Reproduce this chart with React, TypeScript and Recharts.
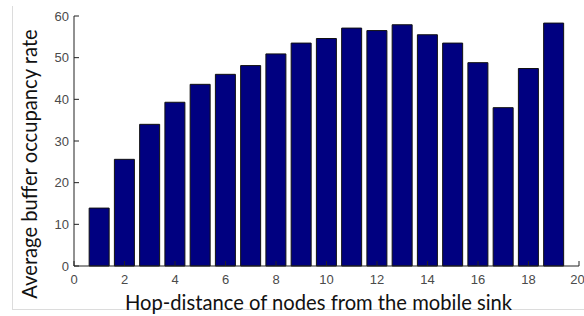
import React from 'react';
import { BarChart, Bar, XAxis, YAxis } from 'recharts';

const hops = [1, 2, 3, 4, 5, 6, 7, 8, 9, 10, 11, 12, 13, 14, 15, 16, 17, 18, 19];
const occupancy = [13.9, 25.6, 34.0, 39.3, 43.6, 46.0, 48.1, 50.9, 53.5, 54.6, 57.1, 56.5, 57.9, 55.5, 53.5, 48.8, 38.0, 47.4, 58.3];
const xTicks = [0, 2, 4, 6, 8, 10, 12, 14, 16, 18, 20];
const yTicks = [0, 10, 20, 30, 40, 50, 60];

const data = hops.map((h, i) => ({ hop: h, value: occupancy[i] }));

const tickStyle = { fill: '#4a4a4a', fontSize: 13, fontFamily: 'Liberation Sans, Arial, sans-serif' };
const labelFont = 'Lato, "Open Sans", sans-serif';

export default function App() {
  return (
    <div style={{ position: 'absolute', left: 0, top: 0, width: 584, height: 316, background: '#fff' }}>
      <div
        style={{
          position: 'absolute',
          left: 12,
          top: 6,
          width: 572,
          height: 303,
          borderLeft: '1px solid #dcdcdc',
          borderBottom: '1px solid #dcdcdc',
        }}
      />
      <BarChart
        width={584}
        height={316}
        data={data}
        margin={{ top: 16, right: 5, left: 0, bottom: 0 }}
        style={{ position: 'absolute', left: 0, top: 0 }}
      >
        <XAxis
          dataKey="hop"
          type="number"
          domain={[0, 20]}
          ticks={xTicks}
          height={50}
          stroke="#222"
          tickSize={-5}
          tickMargin={14}
          tick={tickStyle}
          label={{
            value: 'Hop-distance of nodes from the mobile sink',
            position: 'insideBottom',
            offset: 6,
            dx: -8,
            style: { fontSize: 20.2, fontFamily: labelFont, fill: '#111' },
          }}
        />
        <XAxis
          xAxisId="top"
          dataKey="hop"
          type="number"
          orientation="top"
          domain={[0, 20]}
          ticks={xTicks}
          height={0}
          stroke="#222"
          tickSize={-5}
          tick={false}
        />
        <YAxis
          domain={[0, 60]}
          ticks={yTicks}
          width={74}
          stroke="#222"
          tickSize={-5}
          tickMargin={10}
          tick={tickStyle}
          label={{
            value: 'Average buffer occupancy rate',
            angle: -90,
            position: 'insideLeft',
            offset: 30,
            dy: 23,
            style: { fontSize: 20.2, fontFamily: labelFont, fill: '#111', textAnchor: 'middle' },
          }}
        />
        <YAxis
          yAxisId="right"
          orientation="right"
          domain={[0, 60]}
          ticks={yTicks}
          width={0}
          stroke="#222"
          tickSize={-5}
          tick={false}
        />
        <Bar dataKey="value" fill="#000080" stroke="#111" strokeWidth={1} isAnimationActive={false} />
      </BarChart>
    </div>
  );
}
